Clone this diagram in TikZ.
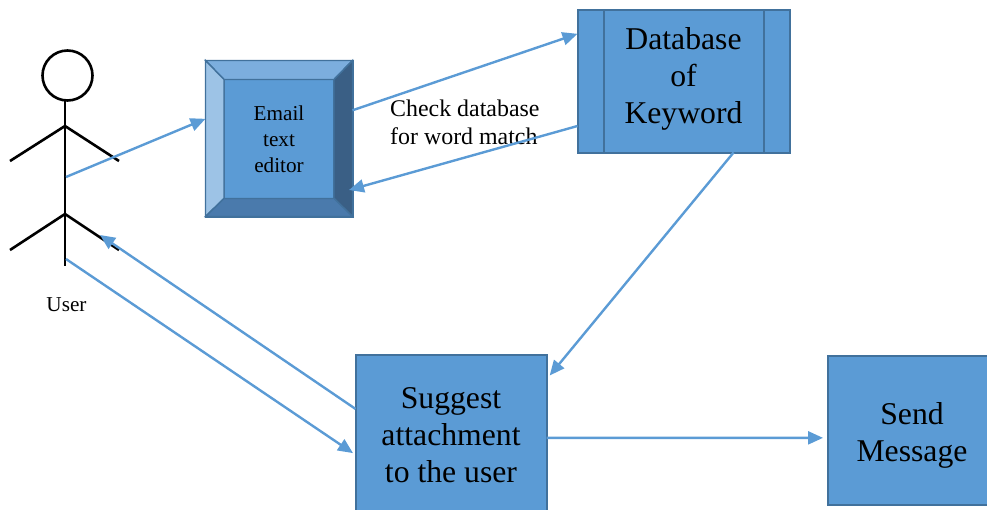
\documentclass[tikz,border=0pt]{standalone}
\usepackage{fontspec}
\setmainfont{Liberation Serif}
\usetikzlibrary{arrows.meta}
\definecolor{boxfill}{HTML}{5B9BD5}
\definecolor{boxline}{HTML}{41719C}
\definecolor{bevtop}{HTML}{7CAEDE}
\definecolor{bevleft}{HTML}{9DC3E6}
\definecolor{bevright}{HTML}{3A5F85}
\definecolor{bevbottom}{HTML}{4A7AAC}

\begin{document}
\begin{tikzpicture}[x=1pt,y=-1pt,>={Triangle[length=15pt,width=13pt]},
                        main box/.style={rectangle,draw=boxline,fill=boxfill,line width=2pt,inner sep=0pt,outer sep=0pt},
                        main text/.style={align=center,font=\fontsize{31.7}{37}\selectfont},
                        small text/.style={align=center,font=\fontsize{21.2}{26}\selectfont},
                        stick/.style={line width=2.6pt},
                        link/.style={->,draw,color=boxfill,line width=2.4pt},
                        bevel/.style={draw=boxline,line width=1.4pt}]
    \useasboundingbox (0,0) rectangle (987,509);
    \clip (0,0) rectangle (987,509);

          % user
          \node[circle,draw,line width=2.6pt,minimum size=50pt,inner sep=0pt] (head) at (67.5,75.5) {};
          \coordinate (neck) at (65,100);
          \coordinate (shoulder) at (65,126);
          \coordinate (hip) at (65,214);
          \coordinate (foot) at (65,266);
          \coordinate (lefthand) at (10,161);
          \coordinate (righthand) at (119,161);
          \coordinate (leftfoot) at (10,250);
          \coordinate (rightfoot) at (119,250);
          \draw[stick] (neck) -- (foot);
          \draw[stick] (lefthand) -- (shoulder) -- (righthand);
          \draw[stick] (leftfoot) -- (hip) -- (rightfoot);
          \node[small text] (user) at (66.5,305) {User};

          % boxes
          \node[main box,minimum width=147pt,minimum height=156pt] (editor) at (279,138.5) {};
          \node[main box,small text,line width=1.4pt,minimum width=110pt,minimum height=119pt] (face) at (279,139) {Email\\text\\editor};
          \fill[bevtop,bevel] (editor.north west) -- (editor.north east) -- (face.north east) -- (face.north west) -- cycle;
          \fill[bevleft,bevel] (editor.north west) -- (editor.south west) -- (face.south west) -- (face.north west) -- cycle;
          \fill[bevright,bevel] (editor.north east) -- (editor.south east) -- (face.south east) -- (face.north east) -- cycle;
          \fill[bevbottom,bevel] (editor.south west) -- (editor.south east) -- (face.south east) -- (face.south west) -- cycle;

          \node[main box,minimum width=212pt,minimum height=143pt] (db) at (683.5,81) {};
          \draw[boxline,line width=2pt] ([xshift=26pt]db.north west) -- ([xshift=26pt]db.south west);
          \draw[boxline,line width=2pt] ([xshift=-26pt]db.north east) -- ([xshift=-26pt]db.south east);
          \node[main text] (dbtext) at ([yshift=2pt]db.center) {Database\\of\\Keyword};

          \node[main box,minimum width=191pt,minimum height=159pt] (suggest) at (451,434.5) {};
          \node[main text] (suggesttext) at ([yshift=-1pt]suggest.center) {Suggest\\attachment\\to the user};
          \node[main box,minimum width=168pt,minimum height=149pt] (send) at (912,430.5) {};
          \node[main text] (sendtext) at ([yshift=-5pt]send.center) {Send\\Message};

          \node[align=left,anchor=west,inner sep=0pt,font=\fontsize{23.9}{28}\selectfont] (check) at (390,122) {Check database\\for word match};

          % free ends
          \coordinate (body) at (66,177);
          \coordinate (legs) at (66,259);
          \coordinate (knee) at (100,235);
          \coordinate (bevelhit) at (349,190);

          \path[every edge/.style={link}]
           (body) edge (editor.165)
           (editor.21) edge (db.156.5)
           (db.203) edge (bevelhit)
           (db.-55.5) edge [shorten >=5pt] (suggest.30.5)
           (suggest.165.6) edge (knee)
           (legs) edge [shorten >=3pt] (suggest.192.7)
           (suggest.-2.7) edge [shorten >=5pt] (send.185.8);
\end{tikzpicture}
\end{document}
